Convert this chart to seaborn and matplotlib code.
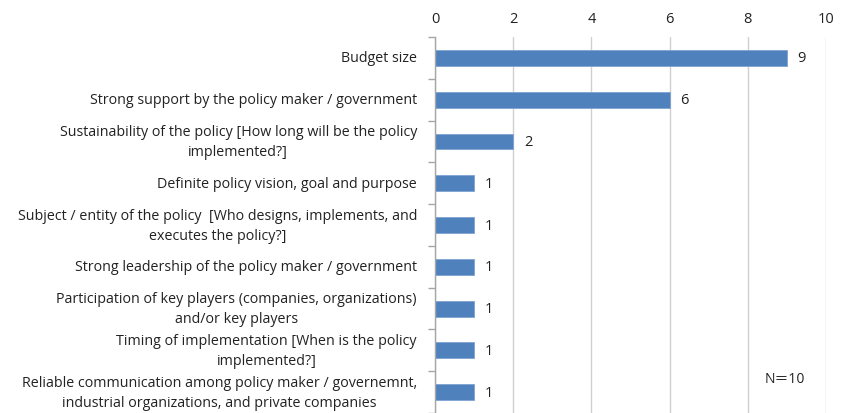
import matplotlib
matplotlib.use("Agg")
import matplotlib.pyplot as plt
import seaborn as sns
import numpy as np

categories = [
    "Budget size",
    "Strong support by the policy maker / government",
    "Sustainability of the policy [How long will be the policy\nimplemented?]",
    "Definite policy vision, goal and purpose",
    "Subject / entity of the policy  [Who designs, implements, and\nexecutes the policy?]",
    "Strong leadership of the policy maker / government",
    "Participation of key players (companies, organizations)\nand/or key players",
    "Timing of implementation [When is the policy\nimplemented?]",
    "Reliable communication among policy maker / governemnt,\nindustrial organizations, and private companies",
]
counts = [9, 6, 2, 1, 1, 1, 1, 1, 1]
x_ticks = [0, 2, 4, 6, 8, 10]
note = "N\uff1d10"

sns.set_theme(style="white")
plt.rcParams["font.family"] = ["Open Sans", "Noto Sans CJK JP", "DejaVu Sans"]

fig = plt.figure(figsize=(8.55, 4.14), dpi=100)
ax = fig.add_axes([0.5088, 0.0, 0.966 - 0.5088, 0.908])

bar_color = "#4F81BD"
sns.barplot(x=counts, y=categories, orient="h", color=bar_color,
            width=0.38, edgecolor="#7FA3D3", linewidth=0.6, ax=ax,
            saturation=1)

ax.set_xlim(0, 10)
ax.set_ylim(len(categories) - 0.5, -0.5)
ax.set_xticks(x_ticks)
ax.xaxis.tick_top()
ax.tick_params(axis="x", length=0, pad=8, labelsize=10.5, colors="#222222")
ax.grid(axis="x", color="#D0D0D0", linewidth=1)
ax.set_axisbelow(True)

for side in ("top", "right", "bottom"):
    ax.spines[side].set_visible(False)
ax.spines["left"].set_color("#A6A6A6")
ax.spines["left"].set_linewidth(1)

# category labels without major tick marks; boundary ticks as minor ticks
ax.tick_params(axis="y", length=0, pad=13, labelsize=10.3, colors="#222222")
ax.set_yticks(np.arange(-0.5, len(categories), 1.0), minor=True)
ax.tick_params(axis="y", which="minor", left=True, length=5, color="#A6A6A6", width=1)
for lbl in ax.get_yticklabels():
    lbl.set_multialignment("center")
    lbl.set_linespacing(1.45)
    lbl.set_verticalalignment("center")
ax.set_xlabel("")
ax.set_ylabel("")

for i, v in enumerate(counts):
    ax.text(v + 0.27, i, str(v), va="center", ha="left", fontsize=10.5, color="#222222")

ax.text(0.843, 0.093, note, transform=ax.transAxes, fontsize=10, color="#222222",
        va="center", ha="left")

fig.savefig("out.png", dpi=100)
